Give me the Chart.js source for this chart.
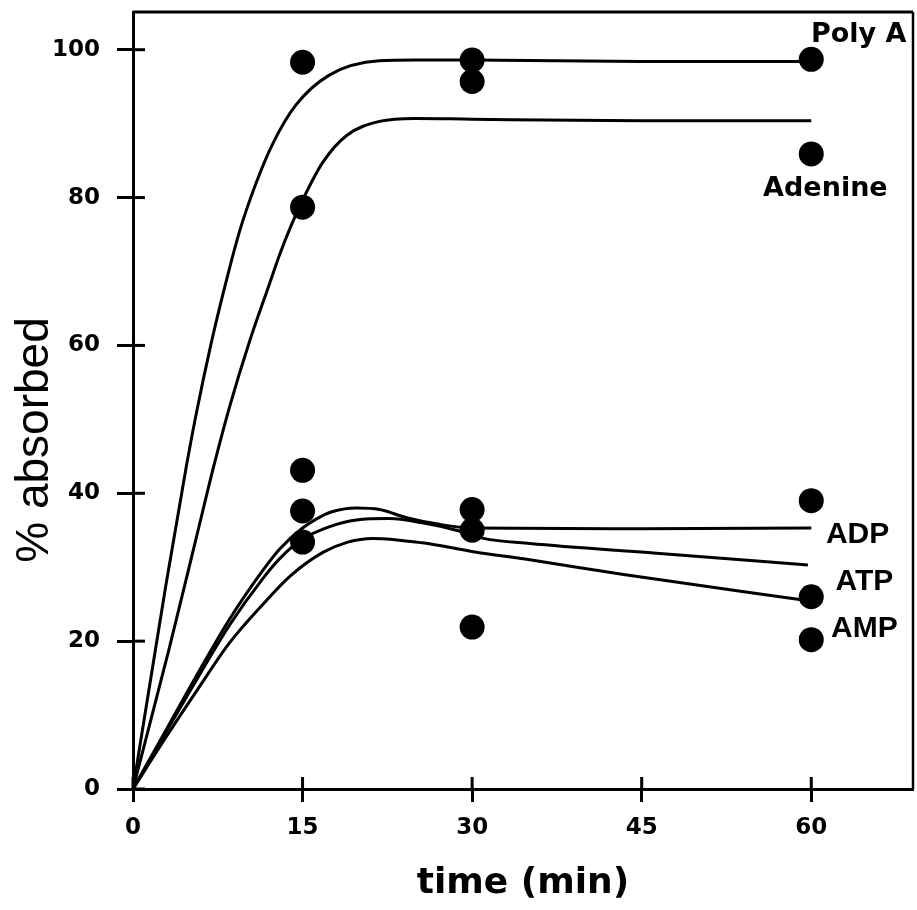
<!DOCTYPE html>
<html><head><meta charset="utf-8">
<script src="https://cdn.jsdelivr.net/npm/chart.js@4.4.0/dist/chart.umd.min.js"></script>
<style>html,body{margin:0;padding:0;background:#fff}canvas{display:block}</style>
</head><body>
<canvas id="c" width="917" height="910"></canvas>
<script>
// ---- axis ticks ----
const xTicks = [0, 15, 30, 45, 60];
const yTicks = [0, 20, 40, 60, 80, 100];

// ---- measured points (time in min, % absorbed) ----
const sampleTimes = [15, 30, 60];
const polyAPoints   = [98.3, 98.6, 98.7];
const adeninePoints = [78.7, 95.7, 85.9];
const adpPoints     = [37.6, 37.8, 39.0];
const atpPoints     = [43.1, 35.0, 26.0];
const ampPoints     = [33.4, 21.9, 20.2];

// ---- fitted curves ----
const polyACurveT   = [0, 2.9, 4.7, 5.6, 6.8, 8.0, 9.4, 10.9, 12.4, 14.4, 17.4, 21.8, 25, 30, 45, 60];
const polyACurveV   = [0, 27.5, 43.5, 50.8, 59.5, 67.2, 75.3, 82.0, 87.4, 92.5, 96.6, 98.5, 98.6, 98.6, 98.4, 98.4];
const adenineCurveT = [0, 3.2, 5.6, 7.2, 8.6, 10.3, 12.0, 13.0, 14.1, 15.3, 16.8, 18.9, 21.8, 25, 30, 45, 60];
const adenineCurveV = [0, 19.0, 34.0, 44.0, 52.0, 60.5, 68.0, 72.4, 76.6, 80.6, 84.8, 88.4, 90.3, 90.7, 90.6, 90.4, 90.4];
const adpCurveT     = [0, 3, 5.6, 8.55, 11.5, 13, 15, 16.2, 17.4, 19.75, 21.8, 24.2, 27.1, 30, 45, 60];
const adpCurveV     = [0, 8.2, 15.3, 23.0, 29.6, 32.5, 35.3, 36.5, 37.4, 38.0, 37.8, 36.7, 35.8, 35.3, 35.2, 35.3];
const atpCurveT     = [0, 3, 5.6, 8.55, 11.5, 13, 15, 17.4, 19.75, 22.7, 25.6, 28.6, 31, 35.1, 46.3, 59.7];
const atpCurveV     = [0, 7.9, 14.7, 22.2, 28.5, 31.2, 33.8, 35.5, 36.4, 36.6, 36.0, 35.0, 33.9, 33.2, 31.9, 30.3];
const ampCurveT     = [0, 3, 5.6, 8.55, 11.5, 13.9, 16.8, 19, 21.2, 25.6, 30.1, 35.1, 43.4, 59.6];
const ampCurveV     = [0, 7.2, 13.2, 19.8, 25.0, 28.8, 32.0, 33.4, 33.9, 33.3, 32.1, 31.0, 29.0, 25.5];

// ---- series labels ----
const seriesNames = ['Poly A', 'Adenine', 'ADP', 'ATP', 'AMP'];
const labelAnchorT = [64.2, 61.25, 64.1, 64.7, 64.7];
const labelAnchorV = [102.0, 81.2, 34.4, 28.1, 21.7];

const toXY = (ts, vs) => ts.map((t, i) => ({x: t, y: vs[i]}));

function curve(ts, vs) {
  return {type: 'line', data: toXY(ts, vs), showLine: true, borderColor: '#000', borderWidth: 3,
          pointRadius: 0, fill: false, cubicInterpolationMode: 'monotone'};
}
function pts(vs) {
  return {type: 'scatter', data: toXY(sampleTimes, vs), showLine: false, pointRadius: 12.5,
          pointBackgroundColor: '#000', pointBorderColor: '#000', pointBorderWidth: 0};
}
function noPad(s) { s.paddingTop = 0; s.paddingBottom = 0; s.paddingLeft = 0; s.paddingRight = 0; }

const decorPlugin = {
  id: 'decor',
  afterDraw(chart) {
    const {ctx, chartArea: a, scales: {x, y}} = chart;
    ctx.save();
    ctx.strokeStyle = '#000';
    // frame (top, right)
    ctx.lineWidth = 3;
    ctx.beginPath(); ctx.moveTo(a.left, a.top); ctx.lineTo(a.right, a.top); ctx.stroke();
    ctx.lineWidth = 2.5;
    ctx.beginPath(); ctx.moveTo(a.right, a.top); ctx.lineTo(a.right, a.bottom); ctx.stroke();
    // inward tick halves
    ctx.lineWidth = 3;
    yTicks.forEach(v => { const py = y.getPixelForValue(v);
      ctx.beginPath(); ctx.moveTo(a.left, py); ctx.lineTo(a.left + 12, py); ctx.stroke(); });
    xTicks.forEach(v => { const px = x.getPixelForValue(v);
      ctx.beginPath(); ctx.moveTo(px, a.bottom); ctx.lineTo(px, a.bottom - 12); ctx.stroke(); });
    // y title
    ctx.fillStyle = '#000';
    ctx.save();
    ctx.translate(35, 440);
    ctx.rotate(-Math.PI / 2);
    ctx.font = '46px "Liberation Sans"';
    ctx.textAlign = 'center'; ctx.textBaseline = 'middle';
    ctx.fillText('% absorbed', 0, 0);
    ctx.restore();
    // series labels
    ctx.textAlign = 'center'; ctx.textBaseline = 'middle';
    seriesNames.forEach((name, i) => {
      ctx.font = i < 2 ? 'bold 27px "DejaVu Sans"' : 'bold 30px "Liberation Sans"';
      ctx.fillText(name, x.getPixelForValue(labelAnchorT[i]), y.getPixelForValue(labelAnchorV[i]));
    });
    ctx.restore();
  }
};

new Chart(document.getElementById('c'), {
  type: 'scatter',
  data: {
    datasets: [
      curve(polyACurveT, polyACurveV),
      curve(adenineCurveT, adenineCurveV),
      curve(adpCurveT, adpCurveV),
      curve(atpCurveT, atpCurveV),
      curve(ampCurveT, ampCurveV),
      pts(polyAPoints), pts(adeninePoints), pts(adpPoints), pts(atpPoints), pts(ampPoints)
    ]
  },
  options: {
    responsive: false,
    animation: false,
    events: [],
    layout: {autoPadding: false, padding: {top: 12, right: 4, left: 0, bottom: 0}},
    plugins: {legend: {display: false}, tooltip: {enabled: false}},
    scales: {
      x: {
        type: 'linear', min: 0, max: 69,
        afterFit(s) { s.height = 121; noPad(s); },
        afterBuildTicks(s) { s.ticks = xTicks.map(v => ({value: v})); },
        grid: {drawOnChartArea: false, drawTicks: true, tickLength: 13, tickWidth: 3, tickColor: '#000'},
        border: {display: true, color: '#000', width: 3},
        ticks: {color: '#000', font: {family: 'DejaVu Sans', weight: 'bold', size: 23}, padding: 12,
                maxRotation: 0, autoSkip: false},
        title: {display: true, text: 'time (min)', color: '#000',
                font: {family: 'DejaVu Sans', weight: 'bold', size: 36}, padding: {top: 0, bottom: 5}}
      },
      y: {
        type: 'linear', min: 0, max: 105.1,
        afterFit(s) { s.width = 133; noPad(s); },
        afterBuildTicks(s) { s.ticks = yTicks.map(v => ({value: v})); },
        grid: {drawOnChartArea: false, drawTicks: true, tickLength: 16, tickWidth: 3, tickColor: '#000'},
        border: {display: true, color: '#000', width: 3},
        ticks: {color: '#000', font: {family: 'DejaVu Sans', weight: 'bold', size: 23}, padding: 17,
                autoSkip: false}
      }
    }
  },
  plugins: [decorPlugin]
});
</script>
</body></html>
